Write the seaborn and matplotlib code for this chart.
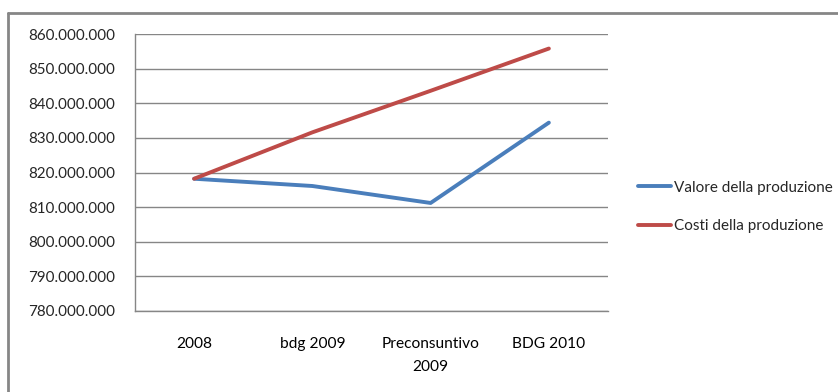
import matplotlib
matplotlib.use("Agg")
import matplotlib.pyplot as plt
from matplotlib.lines import Line2D
from matplotlib.ticker import FuncFormatter, FixedLocator
import seaborn as sns
import pandas as pd

categories = ["2008", "bdg 2009", "Preconsuntivo\n2009", "BDG 2010"]
valore = [818_200_000, 816_100_000, 811_200_000, 834_400_000]
costi = [818_200_000, 831_600_000, 843_600_000, 855_800_000]
series_names = ["Valore della produzione", "Costi della produzione"]
colors = ["#4A7EBB", "#BE4B48"]

sns.set_style("white")
plt.rcParams["font.family"] = ["Lato", "DejaVu Sans"]

df = pd.DataFrame({
    "cat": categories * 2,
    "val": valore + costi,
    "serie": [series_names[0]] * 4 + [series_names[1]] * 4,
})
df["x"] = list(range(4)) * 2

fig = plt.figure(figsize=(8.38, 3.92), dpi=100)
ax = fig.add_axes([135 / 838, 1 - 311 / 392, (608 - 135) / 838, (311 - 34) / 392])

sns.lineplot(data=df, x="x", y="val", hue="serie", palette=colors, linewidth=2.8,
             ax=ax, legend=False, sort=False)

ax.set_xlim(-0.5, 3.5)
ax.set_ylim(780_000_000, 860_000_000)
ax.yaxis.set_major_locator(FixedLocator([780_000_000 + i * 10_000_000 for i in range(9)]))
ax.yaxis.set_major_formatter(FuncFormatter(lambda v, p: f"{int(v):,}".replace(",", ".")))
ax.set_xticks(range(4))
ax.set_xticklabels(categories, linespacing=1.75)
ax.set_xticks([-0.5, 0.5, 1.5, 2.5, 3.5], minor=True)
ax.tick_params(axis="x", which="major", length=0, pad=19, labelsize=11.2, colors="#000000")
ax.tick_params(axis="x", which="minor", length=5, width=1, color="#868686", direction="out")
ax.tick_params(axis="y", length=5, width=1, color="#868686", direction="out", labelsize=10.9, pad=9)
ax.set_xlabel("")
ax.set_ylabel("")
ax.grid(axis="y", color="#868686", linewidth=1)
for s in ["top", "right"]:
    ax.spines[s].set_visible(False)
for s in ["left", "bottom"]:
    ax.spines[s].set_color("#868686")
    ax.spines[s].set_linewidth(1)
ax.set_axisbelow(True)

handles = [Line2D([0], [0], color=c, linewidth=2.8) for c in colors]
fig.legend(handles, series_names, loc="center left",
           bbox_to_anchor=(624 / 838, 1 - 207 / 392), frameon=False,
           fontsize=11, handlelength=2.2, handletextpad=0.15, labelspacing=1.6)

fig.add_artist(Line2D([8 / 838, 1.0], [1 - 13 / 392, 1 - 13 / 392], color="#868686",
                      linewidth=2, transform=fig.transFigure))
fig.add_artist(Line2D([8 / 838, 8 / 838], [0, 1 - 13 / 392], color="#868686",
                      linewidth=2, transform=fig.transFigure))

fig.savefig("out.png", dpi=100)
